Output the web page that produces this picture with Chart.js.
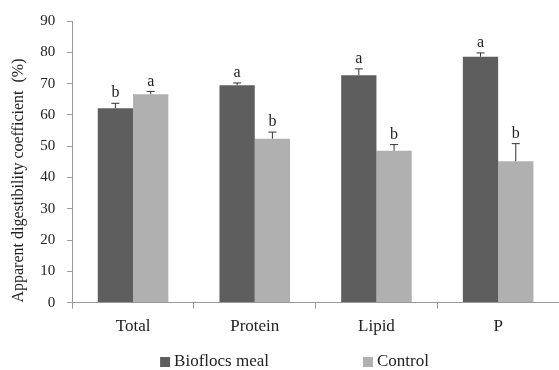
<!DOCTYPE html>
<html>
<head>
<meta charset="utf-8">
<script src="https://cdn.jsdelivr.net/npm/chart.js@4.4.1/dist/chart.umd.min.js"></script>
<style>
  html, body { margin: 0; padding: 0; background: #fff; }
  #wrap { width: 559px; height: 370px; }
</style>
</head>
<body>
<div id="wrap"><canvas id="c" width="559" height="370"></canvas></div>
<script>
// data
const categories = ['Total', 'Protein', 'Lipid', 'P'];
const bioflocs = [62.1, 69.5, 72.7, 78.6];
const bioflocsErr = [1.6, 0.7, 2.0, 1.2];
const bioflocsLetters = ['b', 'a', 'a', 'a'];
const control = [66.6, 52.4, 48.5, 45.2];
const controlErr = [0.9, 2.1, 2.0, 5.6];
const controlLetters = ['a', 'b', 'b', 'b'];

const serif = '"Liberation Serif", "DejaVu Serif", serif';

// error bars + significance letters
const errorBars = {
  id: 'errorBars',
  afterDatasetsDraw(chart) {
    const ctx = chart.ctx;
    const y = chart.scales.y;
    const errs = [bioflocsErr, controlErr];
    const letters = [bioflocsLetters, controlLetters];
    chart.data.datasets.forEach((ds, i) => {
      const meta = chart.getDatasetMeta(i);
      meta.data.forEach((bar, j) => {
        const top = y.getPixelForValue(ds.data[j] + errs[i][j]);
        ctx.save();
        ctx.strokeStyle = '#333';
        ctx.lineWidth = 1;
        ctx.beginPath();
        ctx.moveTo(bar.x, bar.y);
        ctx.lineTo(bar.x, top);
        ctx.moveTo(bar.x - 4, top);
        ctx.lineTo(bar.x + 4, top);
        ctx.stroke();
        ctx.fillStyle = '#222';
        ctx.font = '16px ' + serif;
        ctx.textAlign = 'center';
        ctx.textBaseline = 'bottom';
        ctx.fillText(letters[i][j], bar.x, top - 2);
        ctx.restore();
      });
    });
  }
};

// legend drawn by hand so the wide gap between items doesn't inflate its height
const bottomLegend = {
  id: 'bottomLegend',
  afterDraw(chart) {
    const ctx = chart.ctx;
    const items = chart.data.datasets;
    ctx.save();
    ctx.font = '17px ' + serif;
    ctx.textBaseline = 'middle';
    const box = 10, gap = 4, between = 94;
    let total = 0;
    items.forEach((ds, i) => {
      total += box + gap + ctx.measureText(ds.label).width + (i ? between : 0);
    });
    let x = chart.width / 2 + 15 - total / 2;
    const yMid = chart.height - 8;
    items.forEach((ds, i) => {
      if (i) x += between;
      ctx.fillStyle = ds.backgroundColor;
      ctx.fillRect(x, yMid - box / 2, box, box);
      x += box + gap;
      ctx.fillStyle = '#222';
      ctx.fillText(ds.label, x, yMid);
      x += ctx.measureText(ds.label).width;
    });
    ctx.restore();
  }
};

new Chart(document.getElementById('c'), {
  type: 'bar',
  data: {
    labels: categories,
    datasets: [
      { label: 'Bioflocs meal', data: bioflocs, backgroundColor: '#5e5e5e' },
      { label: 'Control', data: control, backgroundColor: '#b0b0b0' }
    ]
  },
  options: {
    responsive: false,
    animation: false,
    layout: { padding: { top: 12, right: 0, left: 9, bottom: 25 } },
    datasets: { bar: { categoryPercentage: 0.58, barPercentage: 1 } },
    plugins: {
      legend: { display: false },
      tooltip: { enabled: false }
    },
    scales: {
      x: {
        grid: { display: true, drawOnChartArea: false, tickLength: 6, color: '#999', offset: true },
        border: { color: '#999' },
        ticks: { color: '#222', font: { family: serif, size: 17 }, padding: 8 }
      },
      y: {
        min: 0, max: 90,
        ticks: { stepSize: 10, color: '#222', font: { family: serif, size: 15 }, padding: 12 },
        grid: { display: true, drawOnChartArea: false, tickLength: 5, color: '#999' },
        border: { color: '#999' },
        title: {
          display: true,
          align: 'start',
          text: 'Apparent digestibility coefficient  (%)',
          color: '#222',
          font: { family: serif, size: 16 },
          padding: { top: 0, bottom: 0 }
        }
      }
    }
  },
  plugins: [errorBars, bottomLegend]
});
</script>
</body>
</html>
